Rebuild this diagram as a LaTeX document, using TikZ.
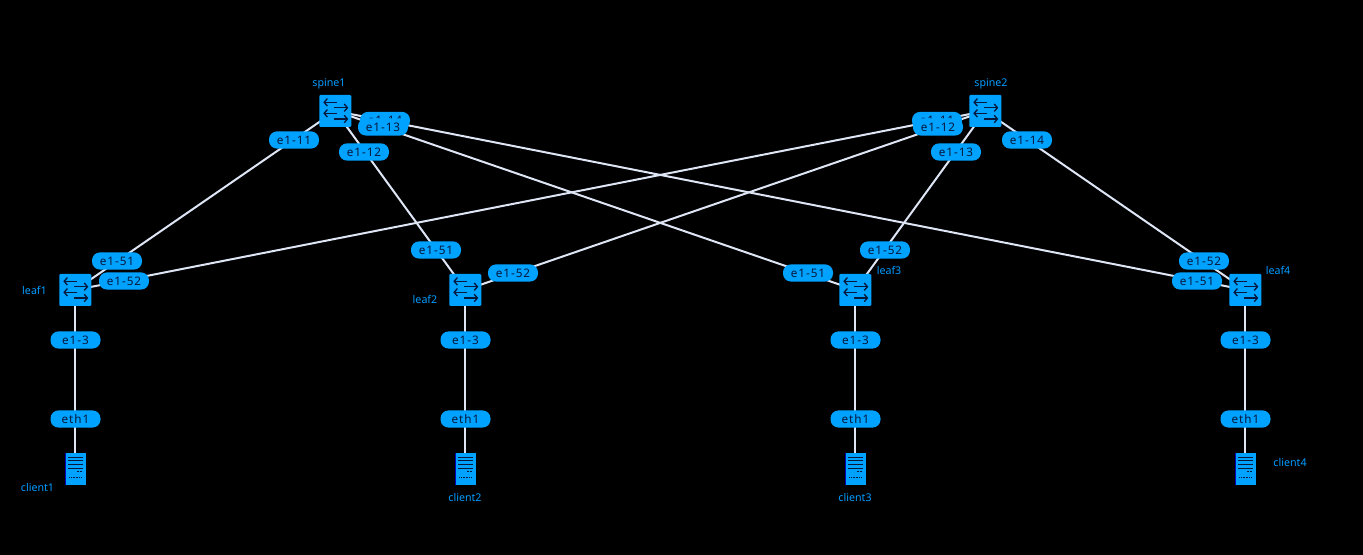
\documentclass[tikz,border=0pt]{standalone}
\usepackage{fontspec}
\setmainfont{Noto Sans}
\usetikzlibrary{arrows.meta,backgrounds}
\definecolor{netblue}{RGB}{0,162,255}
\definecolor{namecol}{RGB}{0,156,255}
\definecolor{darkink}{RGB}{6,24,60}
\definecolor{linkcol}{RGB}{222,230,245}
\tikzset{
  pillbox/.style={draw=none,fill=netblue,rounded corners=6pt,minimum width=37.5pt,minimum height=12.9pt,inner sep=0pt,text=darkink,font=\fontsize{8.8}{9}\selectfont\addfontfeature{LetterSpace=8}},
  namelabel/.style={text=namecol,inner sep=0pt,font=\fontsize{8}{9}\selectfont},
  linkline/.style={draw=linkcol,line width=1.5pt},
  arrowink/.style={draw=darkink,line width=1pt,-{Straight Barb[length=2.4pt,width=5.6pt]}},
  switchbox/.style={fill=netblue,rounded corners=0.8pt,minimum width=24pt,minimum height=24pt,inner sep=0pt,
    path picture={
      \begin{scope}[shift={(path picture bounding box.center)}]
      \draw[arrowink] (2,-8.7) -- (-12,-8.7);
      \draw[arrowink] (-1,-3.3) -- (13,-3.3);
      \draw[arrowink] (2,2.3) -- (-12,2.3);
      \draw[arrowink] (-1,8) -- (13,8);
      \end{scope}
    }},
  serverbox/.style={fill=netblue,minimum width=15.75pt,minimum height=24pt,inner sep=0pt,
    path picture={
      \begin{scope}[shift={(path picture bounding box.center)}]
      \fill[fill=blue!75!black] (-10.5,-16) rectangle (-9.5,16);
      \draw[darkink,line width=0.6pt] (-7.2,-11.7) -- (7.5,-11.7);
      \draw[darkink,line width=0.6pt] (-7.2,-8.3) -- (7.5,-8.3);
      \draw[darkink,line width=0.6pt] (-7.2,-5) -- (7.5,-5);
      \draw[darkink,line width=0.6pt] (-7.2,-1) -- (7.5,-1);
      \draw[darkink,line width=0.9pt,dash pattern=on 1.5pt off 0.7pt] (1.5,2.3) -- (6.5,2.3);
      \draw[darkink,line width=1.1pt,dash pattern=on 0.6pt off 0.6pt] (-6,8.3) -- (6,8.3);
      \end{scope}
    }},
}
\begin{document}
\begin{tikzpicture}[x=0.75pt,y=-0.75pt]
\useasboundingbox (0,0) rectangle (1363,555);
% devices
\node[switchbox] (spine1) at (335.3,111) {};
\node[switchbox] (spine2) at (985.3,111) {};
\node[switchbox] (leaf1) at (75.3,290) {};
\node[switchbox] (leaf2) at (465.3,290) {};
\node[switchbox] (leaf3) at (855.3,290) {};
\node[switchbox] (leaf4) at (1245.3,290) {};
\node[serverbox] (client1) at (75.3,469) {};
\node[serverbox] (client2) at (465.3,469) {};
\node[serverbox] (client3) at (855.3,469) {};
\node[serverbox] (client4) at (1245.3,469) {};
% device names
\node[namelabel] (nspine1) at (329,83.5) {spine1};
\node[namelabel] (nspine2) at (991,83.5) {spine2};
\node[namelabel] (nleaf1) at (34.5,290) {leaf1};
\node[namelabel] (nleaf2) at (425,299) {leaf2};
\node[namelabel] (nleaf3) at (889,270) {leaf3};
\node[namelabel] (nleaf4) at (1278,270) {leaf4};
\node[namelabel] (nclient1) at (37.5,488) {client1};
\node[namelabel] (nclient2) at (465,497) {client2};
\node[namelabel] (nclient3) at (855,497) {client3};
\node[namelabel] (nclient4) at (1290,463) {client4};
% interface labels
\node[pillbox] (s1e14) at (385,120.5) {e1-14};
\node[pillbox] (s1e13) at (383,127) {e1-13};
\node[pillbox] (s1e11) at (294,140) {e1-11};
\node[pillbox] (s1e12) at (364,152) {e1-12};
\node[pillbox] (s2e11) at (937,120.5) {e1-11};
\node[pillbox] (s2e12) at (938,127) {e1-12};
\node[pillbox] (s2e13) at (956,152) {e1-13};
\node[pillbox] (s2e14) at (1027,140) {e1-14};
\node[pillbox] (l1e51) at (117,261) {e1-51};
\node[pillbox] (l1e52) at (124,281) {e1-52};
\node[pillbox] (l2e51) at (436,250) {e1-51};
\node[pillbox] (l2e52) at (513,273) {e1-52};
\node[pillbox] (l3e51) at (808,273) {e1-51};
\node[pillbox] (l3e52) at (885,250) {e1-52};
\node[pillbox] (l4e52) at (1204,261) {e1-52};
\node[pillbox] (l4e51) at (1197,281) {e1-51};
\node[pillbox] (l1e3) at (75.5,340) {e1-3};
\node[pillbox] (l2e3) at (465.5,340) {e1-3};
\node[pillbox] (l3e3) at (855.5,340) {e1-3};
\node[pillbox] (l4e3) at (1245.5,340) {e1-3};
\node[pillbox] (c1e) at (75.5,419) {eth1};
\node[pillbox] (c2e) at (465.5,419) {eth1};
\node[pillbox] (c3e) at (855.5,419) {eth1};
\node[pillbox] (c4e) at (1245.5,419) {eth1};
% links, behind the nodes
\begin{scope}[on background layer]
\fill[black] (0,0) rectangle (1363,555);
\draw[linkline] (spine1.center) -- (leaf1.center);
\draw[linkline] (spine1.center) -- (leaf2.center);
\draw[linkline] (spine1.center) -- (leaf3.center);
\draw[linkline] (spine1.center) -- (leaf4.center);
\draw[linkline] (spine2.center) -- (leaf1.center);
\draw[linkline] (spine2.center) -- (leaf2.center);
\draw[linkline] (spine2.center) -- (leaf3.center);
\draw[linkline] (spine2.center) -- (leaf4.center);
\draw[linkline] (leaf1.center) -- (client1.center);
\draw[linkline] (leaf2.center) -- (client2.center);
\draw[linkline] (leaf3.center) -- (client3.center);
\draw[linkline] (leaf4.center) -- (client4.center);
\end{scope}
\end{tikzpicture}
\end{document}
